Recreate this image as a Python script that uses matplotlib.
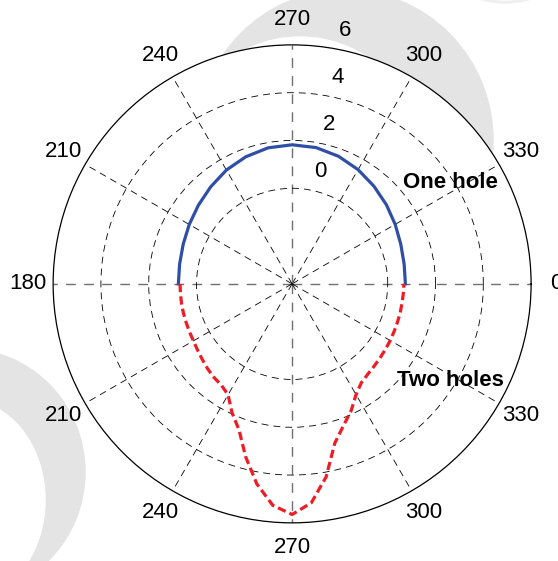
import numpy as np
import matplotlib
matplotlib.use('Agg')
from matplotlib import pyplot as plt
from matplotlib.patches import Ellipse

plt.rcParams['font.family'] = ['Liberation Sans', 'DejaVu Sans']
plt.rcParams['lines.scale_dashes'] = False

# one hole (upper half, degrees)
one_theta = [0, 10, 20, 30, 40, 50, 60, 70, 80, 90,
             100, 110, 120, 130, 140, 150, 160, 170, 180]
one_r = [0.74, 0.76, 0.84, 0.98, 1.15, 1.33, 1.52, 1.68, 1.79, 1.82,
         1.78, 1.66, 1.50, 1.30, 1.12, 0.97, 0.85, 0.78, 0.76]

# two holes (lower half, degrees)
two_theta = [180, 185, 190, 195, 200, 205, 210, 215, 220, 225, 230, 235,
             240, 245, 250, 255, 260, 265, 270, 275, 280, 285, 290, 295,
             300, 305, 310, 315, 320, 325, 330, 335, 340, 345, 350, 355, 360]
two_r = [0.69, 0.69, 0.70, 0.71, 0.72, 0.74, 0.77, 0.83, 0.91, 1.01, 1.10, 1.17,
         1.36, 1.95, 2.50, 3.50, 4.50, 5.30, 5.65, 5.20, 4.20, 2.90, 2.30, 1.85,
         1.35, 1.05, 0.93, 0.86, 0.81, 0.77, 0.74, 0.71, 0.69, 0.68, 0.67, 0.67, 0.68]

r_ticks = [0, 2, 4, 6]
theta_ticks = [0, 30, 60, 90, 120, 150, 180, 210, 240, 270, 300, 330]
theta_labels = ['0', '330', '300', '270', '240', '210',
                '180', '210', '240', '270', '300', '330']


def main():
    fig = plt.figure(figsize=(5.58, 5.61), dpi=100)

    # grey watermark swooshes behind the plot
    bg = fig.add_axes([0, 0, 1, 1], zorder=0)
    bg.set_xlim(0, 558)
    bg.set_ylim(561, 0)
    bg.axis('off')
    grey = '#e4e4e4'
    bg.add_patch(Ellipse((345, 140), 296, 300, color=grey))
    bg.add_patch(Ellipse((300, 170), 254, 266, color='white'))
    bg.add_patch(Ellipse((-35, 472), 240, 246, color=grey))
    bg.add_patch(Ellipse((-35, 500), 160, 200, color='white'))
    bg.add_patch(Ellipse((505, -30), 110, 66, color='#efefef'))
    bg.add_patch(Ellipse((505, -31), 100, 62, color='white'))

    ax = fig.add_axes([0.095, 0.068, 0.857, 0.852], projection='polar', zorder=1)
    ax.set_ylim(-4, 6)
    ax.set_yticks(r_ticks[:-1])
    ax.set_xticks(np.deg2rad(theta_ticks))
    ax.set_xticklabels([])
    ax.set_yticklabels([])
    ax.tick_params(length=0)
    ax.grid(True, color='black', linewidth=0.6, linestyle=(0, (5, 3.6)))
    # main axes spokes are grey with longer dashes
    for i, gl in enumerate(ax.xaxis.get_gridlines()):
        if i % 3 == 0:
            gl.set_color('#707070')
            gl.set_linewidth(1.0)
            gl.set_linestyle((0, (7, 6)))
    ax.spines['polar'].set_linewidth(0.9)

    ax.plot(np.deg2rad(one_theta), one_r, color='#2f4fa6', lw=2.3, zorder=3)
    ax.plot(np.deg2rad(two_theta), two_r, color='#ee1c25', lw=2.3,
            linestyle=(0, (6, 3)), zorder=3)

    for t, lab in zip(theta_ticks, theta_labels):
        ax.text(np.deg2rad(t), 7.05, lab, ha='center', va='center',
                fontsize=16, clip_on=False)
    for r in r_ticks:
        ax.annotate(str(r), (np.deg2rad(80), r), xytext=(8.6, 13),
                    textcoords='offset points', ha='center', va='center',
                    fontsize=16, annotation_clip=False)

    fig.text(450 / 558, 1 - 182 / 561, 'One hole', ha='center', va='center',
             fontsize=16, fontweight='bold', zorder=5)
    fig.text(450 / 558, 1 - 381 / 561, 'Two holes', ha='center', va='center',
             fontsize=16, fontweight='bold', zorder=5)

    fig.savefig('out.png', dpi=100)
    plt.close(fig)


if __name__ == '__main__':
    main()
